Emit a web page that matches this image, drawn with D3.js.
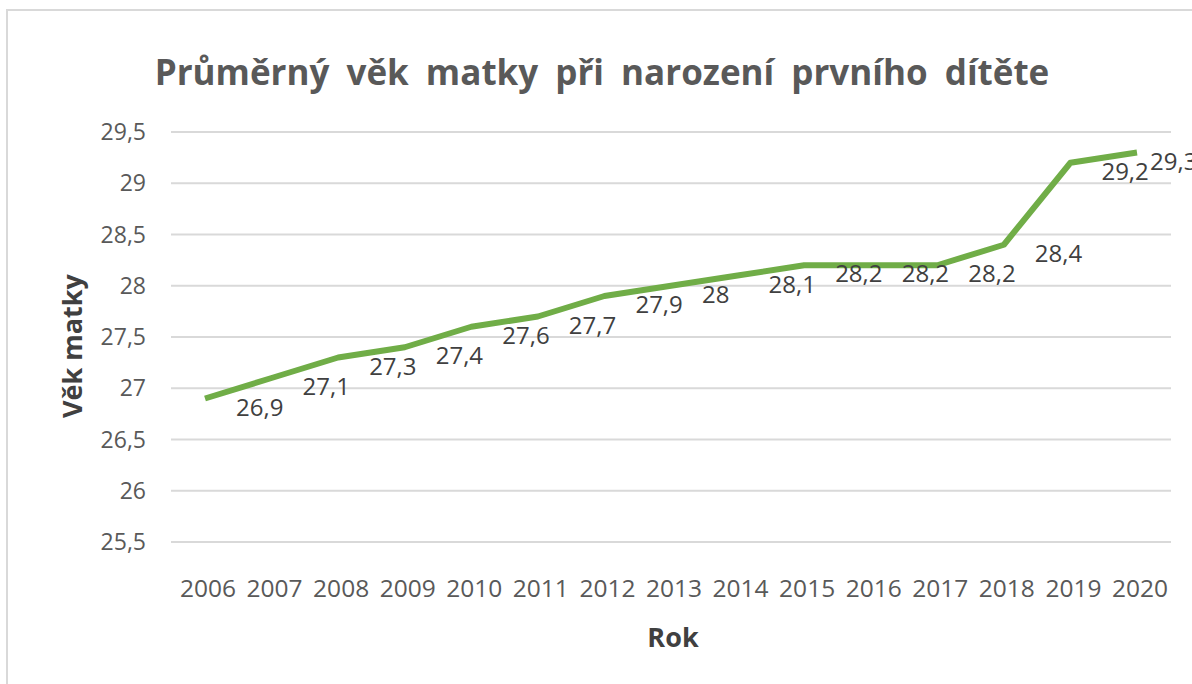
<!DOCTYPE html>
<html>
<head>
<meta charset="utf-8">
<script src="https://d3js.org/d3.v7.min.js"></script>
<style>
  body { margin: 0; background: #fff; }
  text { font-family: "Open Sans", sans-serif; }
</style>
</head>
<body>
<div id="chart"></div>
<script>
  // data
  var years = ["2006", "2007", "2008", "2009", "2010", "2011", "2012", "2013",
               "2014", "2015", "2016", "2017", "2018", "2019", "2020"];
  var ages = [26.9, 27.1, 27.3, 27.4, 27.6, 27.7, 27.9, 28, 28.1, 28.2, 28.2, 28.2, 28.4, 29.2, 29.3];
  var yTicks = [25.5, 26, 26.5, 27, 27.5, 28, 28.5, 29, 29.5];

  var W = 1192, H = 684;
  var fmt = function (v) { return String(v).replace(".", ","); };

  var svg = d3.select("#chart").append("svg")
      .attr("width", W).attr("height", H);

  // chart area border
  svg.append("rect")
      .attr("x", 7).attr("y", 10)
      .attr("width", W + 20).attr("height", H + 20)
      .attr("fill", "#fff")
      .attr("stroke", "#d9d9d9").attr("stroke-width", 2);

  var x = d3.scalePoint().domain(years).range([205, 1137]);
  var y = d3.scaleLinear().domain([25.5, 29.5]).range([542, 132]);

  // grid
  svg.append("g").selectAll("line").data(yTicks).enter().append("line")
      .attr("x1", 171).attr("x2", 1171)
      .attr("y1", function (d) { return y(d); })
      .attr("y2", function (d) { return y(d); })
      .attr("stroke", "#d9d9d9").attr("stroke-width", 2);

  // y tick labels
  svg.append("g").selectAll("text").data(yTicks).enter().append("text")
      .attr("x", 146)
      .attr("y", function (d) { return y(d) + 8; })
      .attr("text-anchor", "end")
      .attr("font-size", 23)
      .attr("fill", "#595959")
      .text(fmt);

  // x tick labels
  svg.append("g").selectAll("text").data(years).enter().append("text")
      .attr("x", function (d) { return x(d) + 3; })
      .attr("y", 597)
      .attr("text-anchor", "middle")
      .attr("font-size", 24.5)
      .attr("fill", "#595959")
      .text(function (d) { return d; });

  // line
  var line = d3.line()
      .x(function (d, i) { return x(years[i]); })
      .y(function (d) { return y(d); });

  svg.append("path")
      .datum(ages)
      .attr("d", line)
      .attr("fill", "none")
      .attr("stroke", "#70ad47")
      .attr("stroke-width", 6)
      .attr("stroke-linejoin", "round");

  // data labels
  svg.append("g").selectAll("text").data(ages).enter().append("text")
      .attr("x", function (d, i) { return Math.min(x(years[i]) + 31, 1150); })
      .attr("y", function (d) { return y(d) + 17; })
      .attr("font-size", 24)
      .attr("fill", "#404040")
      .text(fmt);

  // title
  svg.append("text")
      .attr("x", 602).attr("y", 85)
      .attr("text-anchor", "middle")
      .attr("font-size", 35)
      .attr("font-weight", "bold")
      .attr("word-spacing", 8)
      .attr("fill", "#595959")
      .text("Průměrný věk matky při narození prvního dítěte");

  // axis titles
  svg.append("text")
      .attr("transform", "translate(82,346) rotate(-90)")
      .attr("text-anchor", "middle")
      .attr("font-size", 27)
      .attr("font-weight", "bold")
      .attr("fill", "#404040")
      .text("Věk matky");

  svg.append("text")
      .attr("x", 673).attr("y", 647)
      .attr("text-anchor", "middle")
      .attr("font-size", 27)
      .attr("font-weight", "bold")
      .attr("fill", "#404040")
      .text("Rok");
</script>
</body>
</html>
